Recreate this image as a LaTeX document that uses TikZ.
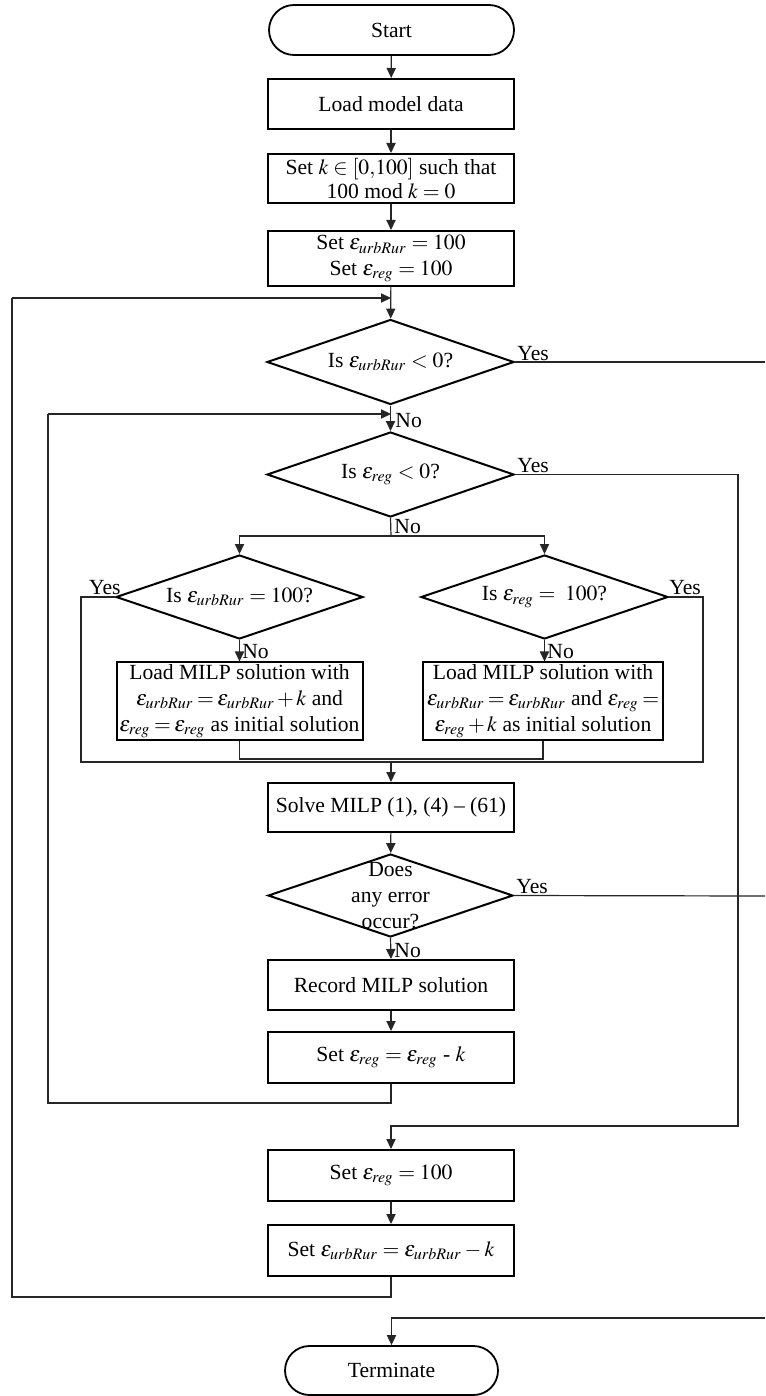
\documentclass[tikz,border=0pt]{standalone}
\usepackage{mathptmx}
\usepackage{fontspec}
\setmainfont{Liberation Serif}
\usetikzlibrary{arrows.meta,shapes.geometric,shapes.misc}

% narrower spacing around relations and binary operators
\newcommand\narrowmath{\thickmuskip=3mu\relax\medmuskip=2mu\relax}

\begin{document}
\begin{tikzpicture}[x=0.5pt,y=-0.5pt,
  every node/.style={font=\fontsize{10.8}{12.3}\selectfont},
  procbox/.style={draw, line width=1pt, rectangle, align=center, inner sep=1pt,
                  minimum width=123pt, minimum height=25pt},
  tightmath/.style={font=\fontsize{10.8}{12.9}\selectfont, execute at begin node=\narrowmath},
  decision/.style={draw, line width=1pt, diamond, inner sep=0pt,
                   minimum width=123.5pt, minimum height=42.5pt},
  terminal/.style={draw, line width=0.9pt, rounded rectangle, inner sep=1pt,
                   minimum height=25pt},
  conn/.style={line width=0.6pt, black!85},
  arr/.style={conn, -{Triangle[length=5pt,width=4.6pt]}},
  lbl/.style={inner sep=0pt, align=center}]

\useasboundingbox (0,0) rectangle (765,1396);

% ---------- nodes ----------
\node[terminal, minimum width=124.5pt] (start) at (391.5,30) {Start};
\node[procbox] (load) at (391,104) {Load model data};
\node[procbox, minimum height=24.5pt] (setk) at (391,178.5)
  {Set $k\in[0{,}100]$ such that\\100 mod $k=0$};
\node[procbox, minimum height=27.5pt, font=\fontsize{10.8}{13}\selectfont] (init) at (391,258.5)
  {Set $\varepsilon_{urbRur}=100$\\Set $\varepsilon_{reg}=100$};

\node[decision, label={[lbl]center:Is $\varepsilon_{urbRur}<0$?}] (d1) at (390.5,362) {};
\node[decision, minimum height=42.5pt, label={[lbl]center:Is $\varepsilon_{reg}<0$?}] (d2) at (390.5,474.5) {};

\node[decision, minimum height=42pt, label={[lbl]center:Is $\varepsilon_{urbRur}=100$?}] (d3) at (239.5,597) {};
\node[decision, minimum height=42pt, label={[lbl]center:Is $\varepsilon_{reg}=\;100$?}] (d4) at (544.5,597) {};

\node[procbox, tightmath, minimum width=123pt, minimum height=38pt] (bl) at (239.5,701)
  {Load MILP solution with\\$\varepsilon_{urbRur}=\varepsilon_{urbRur}+k$ and\\$\varepsilon_{reg}=\varepsilon_{reg}$ as initial solution};
\node[procbox, tightmath, minimum width=120pt, minimum height=38pt] (br) at (543,701)
  {Load MILP solution with\\$\varepsilon_{urbRur}=\varepsilon_{urbRur}$ and $\varepsilon_{reg}=$\\$\varepsilon_{reg}+k$ as initial solution};

\node[procbox, minimum height=24.5pt] (solve) at (391,807.5) {Solve MILP (1), (4) -- (61)};
\node[decision, minimum width=122.5pt, minimum height=41.5pt,
      label={[lbl, font=\fontsize{10.8}{12.8}\selectfont]center:Does\\any error\\occur?}] (d5) at (390.5,895.5) {};
\node[procbox] (rec) at (391,985) {Record MILP solution};
\node[procbox, minimum height=25.5pt] (dec) at (391,1057.5)
  {Set $\varepsilon_{reg}=\varepsilon_{reg}$ - $k$};
\node[procbox, minimum height=25.5pt] (reset) at (391,1175.5)
  {Set $\varepsilon_{reg}=100$};
\node[procbox, minimum height=25.5pt] (decu) at (391,1250.5)
  {Set $\varepsilon_{urbRur}=\varepsilon_{urbRur}-k$};
\node[terminal, minimum width=108.5pt, minimum height=24.5pt] (term) at (391.5,1370.5) {Terminate};

% ---------- branch labels ----------
\node[lbl, anchor=base west] (y1) at (517,360) {Yes};
\node[lbl, anchor=west] (n1) at (395,421) {No};
\node[lbl, anchor=base west] (y2) at (517,472) {Yes};
\node[lbl, anchor=west] (n2) at (394,527) {No};
\node[lbl, anchor=base east] (y3) at (121,594) {Yes};
\node[lbl, anchor=base west] (y4) at (669,594) {Yes};
\node[lbl, anchor=west] (n3) at (242,652) {No};
\node[lbl, anchor=west] (n4) at (547,652) {No};
\node[lbl, anchor=base west] (y5) at (516,893) {Yes};
\node[lbl, anchor=west] (n5) at (394,951) {No};

% ---------- junction points ----------
\coordinate (m1) at (391,298);
\coordinate (l1) at (12,298);
\coordinate (l1b) at (12,1297);
\coordinate (m2) at (391,414);
\coordinate (l2) at (48,414);
\coordinate (l2b) at (48,1103);
\coordinate (e1) at (765,362);
\coordinate (r2) at (738,1126);
\coordinate (sp) at (391,536);
\coordinate (yl) at (81,762);
\coordinate (yr) at (703,762);
\coordinate (jl) at (239.5,759);
\coordinate (jr) at (543,759);
\coordinate (jm) at (391,762);
\coordinate (e5) at (765,896);
\coordinate (e3) at (765,1318);

% ---------- connectors ----------
\draw[arr] (start) -- (load);
\draw[arr] (load) -- (setk);
\draw[arr] (setk) -- (init);
\draw[arr] (init) -- (d1);

% outer loop back to the first decision
\draw[conn] (decu.south) |- (l1b) -- (l1);
\draw[arr] (l1) -- (m1);
\draw[conn] (d1.east) -- (e1);

% inner loop back to the second decision
\draw[arr] (d1.south) -- (d2.north);
\draw[conn] (dec.south) |- (l2b) -- (l2);
\draw[arr] (l2) -- (m2);

% second decision: yes branch to the reset box
\draw[arr] (d2.east) -| (r2) -| (reset.north);

% second decision: no branch splits to two decisions
\draw[conn] (d2.south) -- (sp);
\draw[arr] (sp) -| (d3.north);
\draw[arr] (sp) -| (d4.north);

\draw[arr] (d3.south) -- (bl.north);
\draw[arr] (d4.south) -- (d4.south |- br.north);

% yes branches bypass the loading boxes
\draw[conn] (d3.west) -| (yl) -- (yr) |- (d4.east);

% merge of the two loading boxes
\draw[conn] (bl.south) -- (jl) -- (jr) -- (jr |- br.south);
\draw[arr] (jm) -- (solve.north);

\draw[arr] (solve) -- (d5);
\draw[conn] (d5.east) -- (e5);
\draw[arr] (d5.south) -- (rec.north);
\draw[arr] (rec) -- (dec);
\draw[arr] (reset) -- (decu);

% terminating branch
\draw[arr] (e3) -| (term.north);

\end{tikzpicture}
\end{document}
